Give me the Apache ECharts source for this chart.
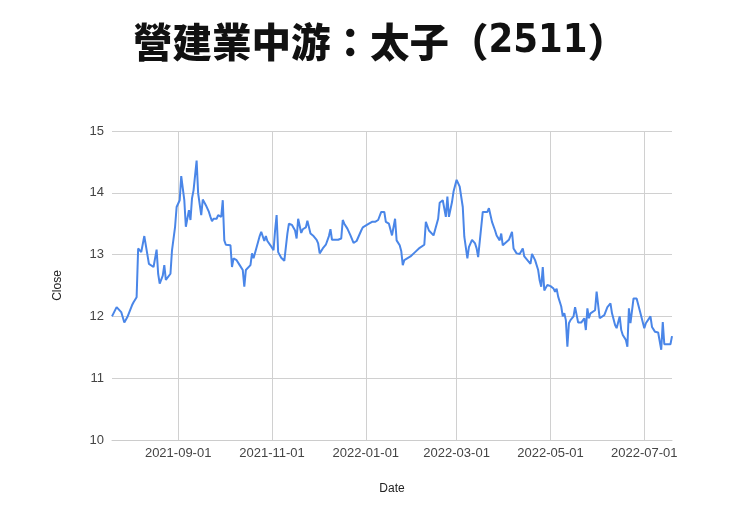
<!DOCTYPE html>
<html>
<head>
<meta charset="utf-8">
<script src="https://cdn.jsdelivr.net/npm/echarts@6/dist/echarts.min.js"></script>
<style>
  html, body { margin: 0; padding: 0; background: #fff; }
  #main { width: 740px; height: 523px; }
</style>
</head>
<body>
<div id="main"></div>
<script>
// 太子 (2511) daily close
var dates = [
  '2021-07-20','2021-07-23','2021-07-26','2021-07-28','2021-07-30','2021-08-02','2021-08-03','2021-08-05',
  '2021-08-06','2021-08-08','2021-08-10','2021-08-11','2021-08-13','2021-08-16','2021-08-17','2021-08-18',
  '2021-08-19','2021-08-20','2021-08-22','2021-08-23','2021-08-24','2021-08-25','2021-08-27','2021-08-28',
  '2021-08-30','2021-08-31','2021-09-02','2021-09-03','2021-09-05','2021-09-06','2021-09-08','2021-09-09',
  '2021-09-10','2021-09-11','2021-09-13','2021-09-14','2021-09-16','2021-09-17','2021-09-19','2021-09-21',
  '2021-09-22','2021-09-23','2021-09-24','2021-09-26','2021-09-27','2021-09-29','2021-09-30','2021-10-01',
  '2021-10-02','2021-10-05','2021-10-06','2021-10-07','2021-10-09','2021-10-11','2021-10-13','2021-10-14',
  '2021-10-15','2021-10-18','2021-10-19','2021-10-20','2021-10-22','2021-10-24',
  '2021-10-25','2021-10-27','2021-10-28','2021-10-29','2021-10-31','2021-11-02','2021-11-03','2021-11-04',
  '2021-11-05','2021-11-07','2021-11-09','2021-11-11','2021-11-12','2021-11-14','2021-11-16','2021-11-17',
  '2021-11-18','2021-11-20','2021-11-21','2021-11-23','2021-11-24','2021-11-25','2021-11-26','2021-11-28',
  '2021-11-30','2021-12-01','2021-12-02','2021-12-04','2021-12-06','2021-12-08','2021-12-09','2021-12-10',
  '2021-12-12','2021-12-14','2021-12-16','2021-12-17','2021-12-18','2021-12-20','2021-12-22','2021-12-23',
  '2021-12-24','2021-12-26','2021-12-27','2021-12-29','2021-12-30','2021-12-31','2022-01-03','2022-01-05',
  '2022-01-07','2022-01-09','2022-01-10','2022-01-11','2022-01-13','2022-01-14','2022-01-16','2022-01-17',
  '2022-01-18',
  '2022-01-20','2022-01-21','2022-01-23','2022-01-24','2022-01-25','2022-01-26','2022-01-30','2022-02-02',
  '2022-02-05','2022-02-08','2022-02-09','2022-02-11','2022-02-12','2022-02-14','2022-02-15','2022-02-17',
  '2022-02-18','2022-02-20','2022-02-21','2022-02-22','2022-02-23','2022-02-24','2022-02-26','2022-02-27',
  '2022-03-01','2022-03-03','2022-03-04','2022-03-05','2022-03-06','2022-03-08','2022-03-09','2022-03-11',
  '2022-03-13','2022-03-14','2022-03-15','2022-03-16','2022-03-18','2022-03-19','2022-03-21','2022-03-22',
  '2022-03-24','2022-03-26','2022-03-27','2022-03-29','2022-03-30','2022-03-31','2022-04-01','2022-04-04',
  '2022-04-06','2022-04-07','2022-04-09','2022-04-11','2022-04-13','2022-04-14','2022-04-16','2022-04-18',
  '2022-04-19','2022-04-21','2022-04-23','2022-04-24',
  '2022-04-25','2022-04-26','2022-04-27','2022-04-29','2022-05-01','2022-05-03','2022-05-04','2022-05-05',
  '2022-05-06','2022-05-08','2022-05-09','2022-05-10','2022-05-11','2022-05-12','2022-05-13','2022-05-14',
  '2022-05-16','2022-05-17','2022-05-18','2022-05-19','2022-05-21','2022-05-23','2022-05-24','2022-05-25',
  '2022-05-26','2022-05-27','2022-05-28','2022-05-30','2022-05-31','2022-06-02','2022-06-03','2022-06-05',
  '2022-06-07','2022-06-09','2022-06-10','2022-06-12','2022-06-13','2022-06-15','2022-06-16','2022-06-17',
  '2022-06-19','2022-06-20','2022-06-21','2022-06-22','2022-06-23','2022-06-24','2022-06-26','2022-06-27',
  '2022-06-28','2022-06-29','2022-07-01','2022-07-02','2022-07-05','2022-07-06','2022-07-07','2022-07-08',
  '2022-07-10','2022-07-11','2022-07-12','2022-07-13','2022-07-14','2022-07-16','2022-07-18','2022-07-19'
];
var closes = [
  12.00,12.15,12.07,11.90,11.99,12.18,12.23,12.31,
  13.10,13.04,13.30,13.28,12.85,12.80,12.79,13.08,
  12.69,12.53,12.66,12.83,12.59,12.61,12.69,13.07,
  13.45,13.77,13.88,14.27,13.88,13.45,13.72,13.56,
  13.91,14.04,14.52,13.99,13.64,13.89,13.80,13.69,
  13.61,13.54,13.58,13.58,13.64,13.61,13.88,13.23,
  13.16,13.15,12.80,12.94,12.91,12.83,12.75,12.48,
  12.75,12.83,13.02,12.94,13.12,13.30,
  13.37,13.22,13.30,13.22,13.15,13.07,13.39,13.64,
  13.04,12.95,12.90,13.34,13.50,13.48,13.39,13.26,
  13.58,13.35,13.41,13.44,13.55,13.55,13.34,13.30,
  13.24,13.18,13.02,13.10,13.16,13.30,13.41,13.24,
  13.24,13.24,13.26,13.56,13.50,13.42,13.31,13.29,
  13.19,13.22,13.24,13.39,13.44,13.46,13.50,13.53,
  13.53,13.56,13.56,13.69,13.69,13.53,13.50,13.48,
  13.31,
  13.58,13.23,13.15,13.06,12.83,12.91,12.97,13.04,
  13.11,13.16,13.53,13.39,13.37,13.31,13.29,13.58,
  13.84,13.88,13.89,13.61,13.94,13.61,13.85,14.02,
  14.21,14.10,14.07,13.77,13.29,12.94,13.12,13.24,
  13.18,13.10,12.96,12.99,13.69,13.69,13.69,13.75,
  13.53,13.39,13.31,13.23,13.34,13.15,13.15,13.24,
  13.37,13.10,13.02,13.01,13.10,12.97,12.91,12.85,
  13.01,12.91,12.75,12.58,
  12.48,12.80,12.42,12.51,12.49,12.45,12.40,12.45,
  12.32,12.16,12.00,12.05,11.94,11.51,11.89,11.94,
  12.00,12.15,12.15,11.90,11.90,11.97,11.78,12.13,
  11.97,12.05,12.08,12.10,12.40,11.97,11.98,12.02,
  12.15,12.21,12.05,11.86,11.81,12.00,11.78,11.70,
  11.62,11.51,12.13,11.89,11.89,12.29,12.29,12.29,
  12.10,12.10,11.81,11.89,12.00,11.83,11.84,11.75,
  11.74,11.73,11.46,11.91,11.55,11.55,11.55,11.68
];
var yTicks = [10, 11, 12, 13, 14, 15];

var chart = echarts.init(document.getElementById('main'));
var DAY = 24 * 3600 * 1000;
var font = 'Arial, "Liberation Sans", sans-serif';
var cjk = '"Noto Sans CJK TC", sans-serif';

chart.setOption({
  animation: false,
  title: {
    text: '{a|營建業中游：太子（}{b|2511}{a|）}',
    left: 128,
    top: 17,
    textStyle: {
      rich: {
        a: { fontFamily: cjk, fontSize: 39.5, fontWeight: 900, color: '#111' },
        b: { fontFamily: '"DejaVu Sans Condensed", ' + cjk,
             fontSize: 39.5, fontWeight: 'bold', color: '#111' }
      }
    }
  },
  grid: { left: 112, right: 68, top: 131, bottom: 83 },
  xAxis: {
    type: 'time',
    min: dates[0],
    max: dates[dates.length - 1],
    minInterval: 65 * DAY,
    maxInterval: 65 * DAY,
    name: 'Date',
    nameLocation: 'middle',
    nameGap: 43,
    nameTextStyle: { fontFamily: font, fontSize: 12, color: '#222' },
    axisLine: { lineStyle: { color: '#ccc' } },
    axisTick: { show: false },
    axisLabel: {
      fontFamily: font, fontSize: 13, color: '#444', margin: 7,
      formatter: '{yyyy}-{MM}-{dd}'
    },
    splitLine: {
      show: true, showMinLine: false, showMaxLine: false,
      lineStyle: { color: '#d0d0d0', width: 1 }
    }
  },
  yAxis: {
    type: 'value',
    min: yTicks[0],
    max: yTicks[yTicks.length - 1],
    interval: 1,
    name: 'Close',
    nameLocation: 'middle',
    nameGap: 48,
    nameTextStyle: { fontFamily: font, fontSize: 12, color: '#222' },
    axisLine: { show: false },
    axisTick: { show: false },
    axisLabel: { fontFamily: font, fontSize: 13, color: '#444', margin: 8 },
    splitLine: { lineStyle: { color: '#d0d0d0', width: 1 } }
  },
  series: [{
    name: 'Close',
    type: 'line',
    showSymbol: false,
    data: dates.map(function (d, i) { return [d, closes[i]]; }),
    lineStyle: { color: '#4a86e8', width: 2 },
    itemStyle: { color: '#4a86e8' }
  }]
});
</script>
</body>
</html>
